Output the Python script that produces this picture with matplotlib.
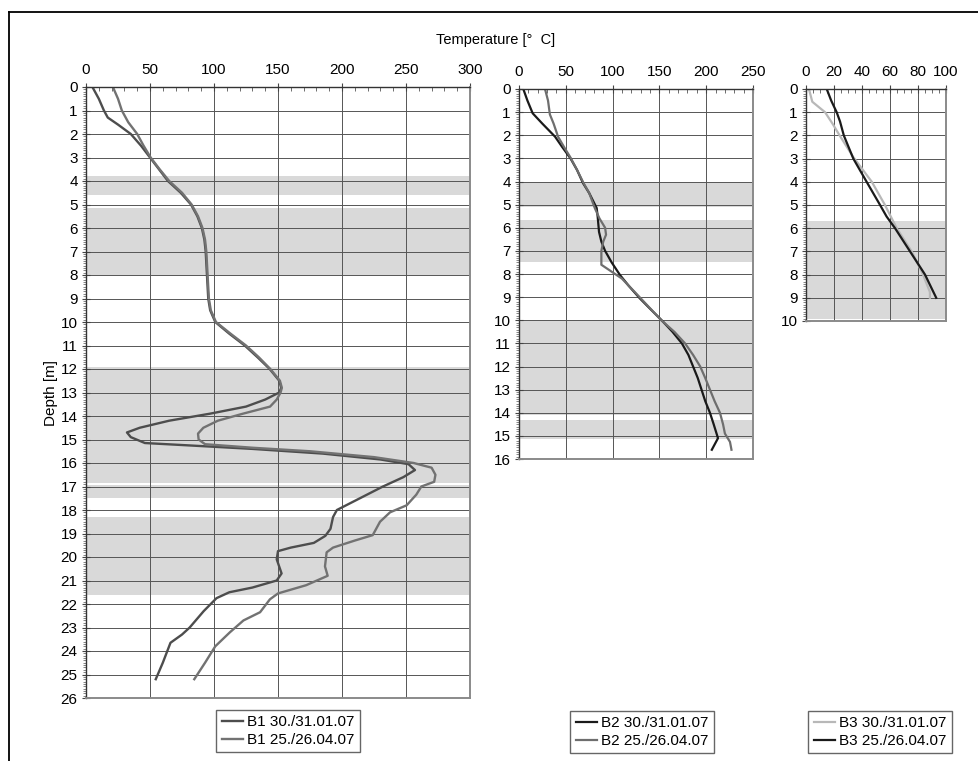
import matplotlib
matplotlib.use("Agg")
import matplotlib.pyplot as plt
from matplotlib.lines import Line2D
from matplotlib.ticker import MultipleLocator

plt.rcParams['font.family'] = ['Liberation Sans', 'DejaVu Sans']

# ---------------- data ----------------
# Borehole B1
b1_jan_depth = [0, 0.5, 1.0, 1.3, 1.6, 2.0, 2.5, 3.0, 3.5, 4.0, 4.5, 5.0, 5.5, 6.0,
                6.5, 7.0, 8.0, 9.0, 9.5, 10.0, 10.5, 11.0, 11.5, 12.0, 12.5, 12.8,
                13.0, 13.3, 13.6, 13.9, 14.2, 14.5, 14.7, 14.9, 15.15, 15.25, 15.4,
                15.6, 15.85, 16.05, 16.3, 16.6, 17.0, 17.5, 18.0, 18.3, 18.8, 19.1,
                19.4, 19.6, 19.75, 20.1, 20.7, 21.0, 21.3, 21.5, 21.75, 22.3, 23.0,
                23.3, 23.65, 24.5, 25.2]
b1_jan_temp = [5, 10, 14, 17, 25, 35, 43, 50, 57, 64, 74, 82, 87, 90.5,
               92.5, 93.5, 94.5, 95.5, 97, 101, 112, 124, 134, 143.5, 151, 152.5,
               151, 140, 125, 97, 65, 42, 32, 35, 46, 80, 130,
               185, 230, 252, 257, 248, 232, 214, 196, 193, 191, 187,
               178, 160, 150, 149, 152.8, 149, 130, 112, 102, 92, 81,
               75, 66, 60, 54.5]

b1_apr_depth = [0, 0.5, 1.0, 1.5, 2.0, 2.5, 3.0, 3.5, 4.0, 4.5, 5.0, 5.5, 6.0, 6.5,
                7.0, 8.0, 9.0, 9.5, 10.0, 10.5, 11.0, 11.5, 12.0, 12.5, 12.8, 13.0,
                13.3, 13.6, 13.9, 14.2, 14.5, 14.75, 15.0, 15.2, 15.35, 15.5, 15.75,
                16.0, 16.2, 16.5, 16.8, 17.0, 17.35, 17.8, 18.1, 18.5, 19.07, 19.3,
                19.6, 19.8, 20.4, 20.8, 21.2, 21.55, 21.8, 22.35, 22.7, 23.2, 23.8,
                24.5, 25.2]
b1_apr_temp = [21, 25, 28, 33, 40, 45, 50.5, 57.5, 65, 75, 82.5, 87.5, 91, 93,
               94, 95, 96, 97.5, 101.5, 113, 125, 135, 144, 151.5, 153, 152,
               149, 143.8, 122.7, 103, 91.7, 87.5, 88, 93, 130, 175, 225,
               256, 270, 273, 272, 262, 258, 250.5, 237.5, 229.7, 224, 210,
               193, 188, 186.7, 188.8, 172, 150, 143.7, 136, 123, 112.5, 101,
               93, 84.6]

# Borehole B2
b2_jan_depth = [0, 0.5, 1.05, 1.5, 2.06, 2.5, 3.0, 3.5, 4.07, 4.5, 5.15, 5.5, 6.18,
                6.6, 7.0, 7.5, 8.05, 8.5, 9.05, 9.5, 10.0, 10.5, 11.0, 11.5, 12.0,
                12.5, 13.0, 13.5, 14.0, 14.5, 15.1, 15.6]
b2_jan_temp = [4.6, 9, 14.6, 25, 38.5, 46, 55, 62, 68.4, 75, 83, 84, 85.5,
               88, 92, 99, 108, 117, 129, 140, 152.4, 164, 174, 181, 186,
               191, 195, 199, 204, 208, 212.6, 206]

b2_apr_depth = [0, 0.5, 1.1, 1.5, 2.06, 2.5, 2.93, 3.5, 4.07, 4.5, 5.15, 5.6, 6.0,
                6.3, 6.6, 7.0, 7.6, 8.2, 9.05, 10.0, 10.5, 11.0, 11.5, 12.0, 12.5,
                13.0, 13.5, 14.0, 14.5, 14.9, 15.26, 15.6]
b2_apr_temp = [27.8, 31, 33, 37, 41.7, 48, 54.5, 62, 69, 75, 81, 86, 92,
               93, 90, 88, 88, 110, 130, 152, 166, 177.4, 186, 193.6, 199,
               204, 209, 214.7, 218, 220, 225.4, 227]

# Borehole B3
b3_jan_depth = [0, 0.55, 1.0, 1.5, 2.0, 2.92, 4.0, 5.0, 6.0, 7.0, 8.0, 8.75, 9.0]
b3_jan_temp = [2.1, 4.5, 13.6, 19, 24, 33.6, 47, 56.4, 64.8, 75.5, 83.6, 88.5, 88.5]

b3_apr_depth = [0, 0.5, 1.0, 1.4, 2.0, 3.0, 4.0, 5.0, 5.5, 6.0, 7.0, 8.0, 9.0]
b3_apr_temp = [14.8, 18, 21.9, 24.3, 27, 33.8, 43.3, 52.9, 57.6, 63.6, 74.3, 85, 93]

# shaded depth intervals per borehole (top, bottom)
b1_zones = [(3.8, 4.6), (5.15, 8.0), (11.9, 16.85), (16.95, 17.5), (18.3, 21.6)]
b2_zones = [(4.05, 5.1), (5.65, 7.5), (10.0, 14.1), (14.3, 15.15)]
b3_zones = [(5.7, 9.9)]

legend_b1 = ["B1 30./31.01.07", "B1 25./26.04.07"]
legend_b2 = ["B2 30./31.01.07", "B2 25./26.04.07"]
legend_b3 = ["B3 30./31.01.07", "B3 25./26.04.07"]

# ---------------- figure ----------------
W, H = 979, 761
fig = plt.figure(figsize=(W / 100, H / 100), dpi=100)


def frac_rect(x0, y0, x1, y1):
    return [x0 / W, 1 - y1 / H, (x1 - x0) / W, (y1 - y0) / H]


def setup(ax, xmax, xmajor, xminor, ymax):
    ax.set_xlim(0, xmax)
    ax.set_ylim(ymax, 0)
    ax.xaxis.tick_top()
    ax.xaxis.set_major_locator(MultipleLocator(xmajor))
    ax.xaxis.set_minor_locator(MultipleLocator(xminor))
    ax.yaxis.set_major_locator(MultipleLocator(1))
    ax.yaxis.set_minor_locator(MultipleLocator(0.1))
    ax.tick_params(axis='x', which='major', direction='inout', length=6,
                   width=0.8, color='#444444', labelsize=11, pad=4)
    ax.tick_params(axis='x', which='minor', direction='in', length=3,
                   width=0.6, color='#555555')
    ax.tick_params(axis='y', which='major', direction='inout', length=6,
                   width=0.8, color='#444444', labelsize=11, pad=3)
    ax.tick_params(axis='y', which='minor', direction='out', length=2.5,
                   width=0.5, color='#555555')
    ax.grid(True, which='major', color='#555555', linewidth=0.7)
    for side in ('top', 'left'):
        ax.spines[side].set_color('#333333')
        ax.spines[side].set_linewidth(1.0)
    for side in ('right', 'bottom'):
        ax.spines[side].set_color('#8a8a8a')
        ax.spines[side].set_linewidth(1.4)


def shade(ax, zones):
    for top, bot in zones:
        ax.axhspan(top, bot, color='#d9d9d9', linewidth=0, zorder=0.5)


def add_legend(handles, labels, cx, cy):
    fig.legend(handles, labels, loc='center', bbox_to_anchor=(cx / W, 1 - cy / H),
               fontsize=11, frameon=True, fancybox=False, edgecolor='#666666',
               framealpha=1, handlelength=1.4, handletextpad=0.25,
               labelspacing=0.25, borderpad=0.35, borderaxespad=0)


ax1 = fig.add_axes(frac_rect(86, 87, 470, 698))
ax2 = fig.add_axes(frac_rect(519, 89, 753, 459))
ax3 = fig.add_axes(frac_rect(806, 89, 946, 321))

setup(ax1, 300, 50, 10, 26)
setup(ax2, 250, 50, 10, 16)
setup(ax3, 100, 20, 5, 10)

shade(ax1, b1_zones)
shade(ax2, b2_zones)
shade(ax3, b3_zones)

l1a, = ax1.plot(b1_jan_temp, b1_jan_depth, color='#4d4d4d', lw=1.7)
l1b, = ax1.plot(b1_apr_temp, b1_apr_depth, color='#727272', lw=1.7)
l2a, = ax2.plot(b2_jan_temp, b2_jan_depth, color='#1a1a1a', lw=1.6)
l2b, = ax2.plot(b2_apr_temp, b2_apr_depth, color='#6e6e6e', lw=1.6)
l3a, = ax3.plot(b3_jan_temp, b3_jan_depth, color='#b8b8b8', lw=1.6)
l3b, = ax3.plot(b3_apr_temp, b3_apr_depth, color='#1a1a1a', lw=1.6)

ax1.set_ylabel("Depth [m]", fontsize=11, labelpad=2)

fig.text(496 / W, 1 - 40 / H, "Temperature [°  C]", ha='center', va='center',
         fontsize=10.5, family=['Liberation Sans Narrow', 'Liberation Sans', 'DejaVu Sans'])

add_legend([l1a, l1b], legend_b1, 288, 731)
add_legend([l2a, l2b], legend_b2, 642, 732)
add_legend([l3a, l3b], legend_b3, 880, 732)

# outer frame (top and left edges visible)
fig.add_artist(Line2D([9 / W, 1.0], [1 - 12 / H, 1 - 12 / H], color='black', lw=1.3,
                      transform=fig.transFigure))
fig.add_artist(Line2D([9 / W, 9 / W], [0.0, 1 - 12 / H], color='black', lw=1.3,
                      transform=fig.transFigure))

fig.savefig("out.png", dpi=100)
